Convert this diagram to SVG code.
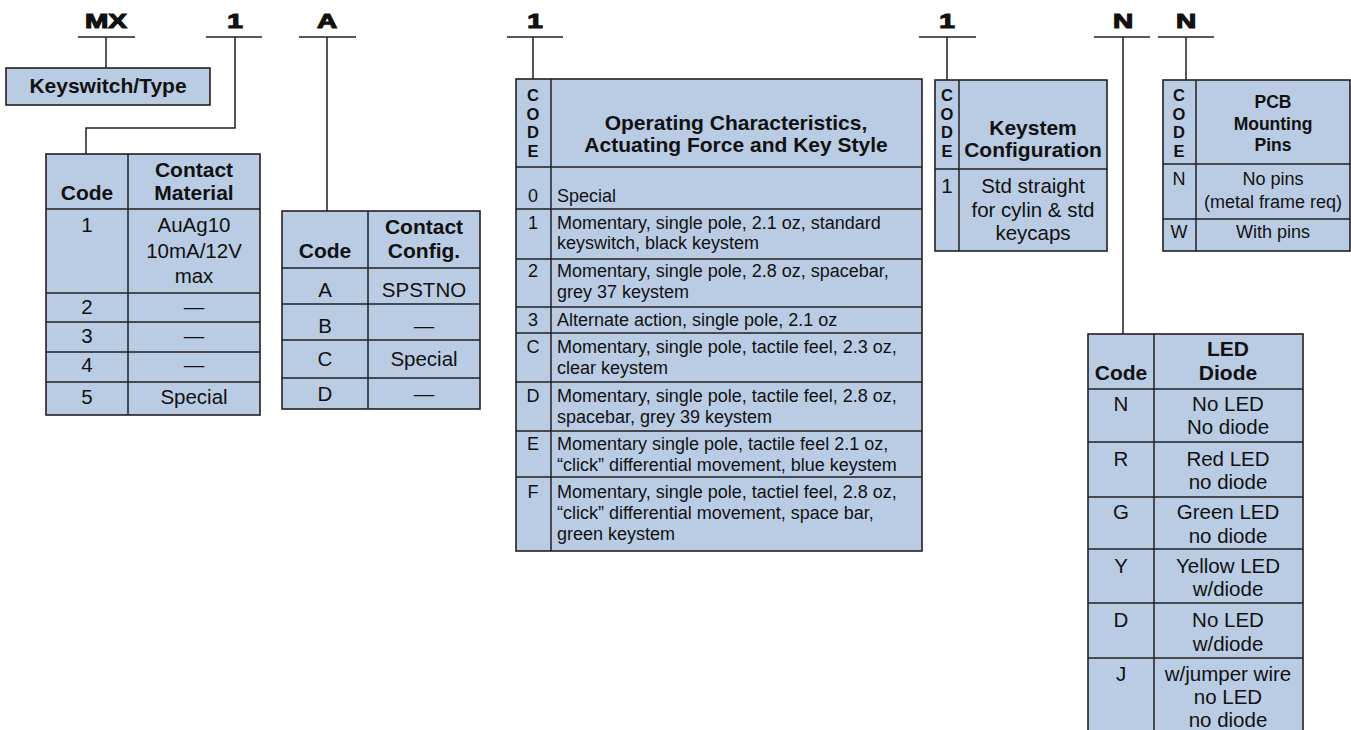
<svg xmlns="http://www.w3.org/2000/svg" width="1351" height="730" viewBox="0 0 1351 730">
<style>
.bg{fill:#ffffff}
.cell{fill:#b9cce4;stroke:#231f20;stroke-width:1.6}
.ln{stroke:#231f20;stroke-width:1.5;fill:none}
.con{stroke:#231f20;stroke-width:1.5;fill:none}
text{font-family:"Liberation Sans",Arial,Helvetica,sans-serif;fill:#111}
.lbl{font-size:20px;font-weight:bold;text-anchor:middle;stroke:#111;stroke-width:1.1}
.hd{font-size:21px;font-weight:bold;text-anchor:middle}
.hds{font-size:17.5px;font-weight:bold;text-anchor:middle}
.cd{font-size:16.5px;font-weight:bold;text-anchor:middle}
.b{font-size:20.5px;text-anchor:middle}
.bs{font-size:18px;text-anchor:middle}
.bl{font-size:18px}
</style>
<rect class="bg" x="0" y="0" width="1351" height="730"/>

<g id="connectors">
  <path class="con" d="M78,37 H135 M106,37 V68"/>
  <path class="con" d="M206,37 H262 M235,37 V128 H86 V154"/>
  <path class="con" d="M299,37 H356 M327,37 V211"/>
  <path class="con" d="M507,37 H563 M533,37 V79"/>
  <path class="con" d="M919,37 H976 M947,37 V80"/>
  <path class="con" d="M1094,37 H1150 M1123,37 V334"/>
  <path class="con" d="M1158,37 H1214 M1186,37 V80"/>
</g>

<g id="labels">
  <text class="lbl" transform="translate(106,28) scale(1.4,1)">MX</text>
  <text class="lbl" transform="translate(235,28) scale(1.4,1)">1</text>
  <text class="lbl" transform="translate(327,28) scale(1.4,1)">A</text>
  <text class="lbl" transform="translate(535,28) scale(1.4,1)">1</text>
  <text class="lbl" transform="translate(947,28) scale(1.4,1)">1</text>
  <text class="lbl" transform="translate(1123,28) scale(1.4,1)">N</text>
  <text class="lbl" transform="translate(1186,28) scale(1.4,1)">N</text>
</g>

<g id="keyswitch-type">
  <rect class="cell" x="6" y="68" width="204" height="37"/>
  <text class="hd" x="108" y="93">Keyswitch/Type</text>
</g>

<g id="contact-material">
  <rect class="cell" x="46" y="154" width="214" height="261"/>
  <path class="ln" d="M128,154 V415 M46,209 H260 M46,293 H260 M46,322 H260 M46,352 H260 M46,382 H260"/>
  <text class="hd" x="87" y="200">Code</text>
  <text class="hd" x="194" y="177">Contact</text>
  <text class="hd" x="194" y="200">Material</text>
  <text class="b" x="87" y="232">1</text>
  <text class="b" x="194" y="232">AuAg10</text>
  <text class="b" x="194" y="258">10mA/12V</text>
  <text class="b" x="194" y="283">max</text>
  <text class="b" x="87" y="314">2</text>
  <text class="b" x="194" y="314">—</text>
  <text class="b" x="87" y="343">3</text>
  <text class="b" x="194" y="343">—</text>
  <text class="b" x="87" y="372">4</text>
  <text class="b" x="194" y="372">—</text>
  <text class="b" x="87" y="404">5</text>
  <text class="b" x="194" y="404">Special</text>
</g>

<g id="contact-config">
  <rect class="cell" x="282" y="211" width="198" height="198"/>
  <path class="ln" d="M368,211 V409 M282,268 H480 M282,304 H480 M282,340 H480 M282,378 H480"/>
  <text class="hd" x="325" y="258">Code</text>
  <text class="hd" x="424" y="234">Contact</text>
  <text class="hd" x="424" y="258">Config.</text>
  <text class="b" x="325" y="297">A</text>
  <text class="b" x="424" y="297">SPSTNO</text>
  <text class="b" x="325" y="333">B</text>
  <text class="b" x="424" y="333">—</text>
  <text class="b" x="325" y="366">C</text>
  <text class="b" x="424" y="366">Special</text>
  <text class="b" x="325" y="401">D</text>
  <text class="b" x="424" y="401">—</text>
</g>

<g id="operating-characteristics">
  <rect class="cell" x="516" y="79" width="406" height="472"/>
  <path class="ln" d="M551,79 V551 M516,167 H922 M516,209 H922 M516,259 H922 M516,307 H922 M516,333 H922 M516,382 H922 M516,431 H922 M516,477 H922"/>
  <text class="cd" x="533" y="101">C</text>
  <text class="cd" x="533" y="119.5">O</text>
  <text class="cd" x="533" y="138">D</text>
  <text class="cd" x="533" y="156.5">E</text>
  <text class="hd" x="736" y="130">Operating Characteristics,</text>
  <text class="hd" x="736" y="152">Actuating Force and Key Style</text>
  <text class="bs" x="533" y="202">0</text>
  <text class="bl" x="557" y="202">Special</text>
  <text class="bs" x="533" y="229">1</text>
  <text class="bl" x="557" y="229">Momentary, single pole, 2.1 oz, standard</text>
  <text class="bl" x="557" y="249">keyswitch, black keystem</text>
  <text class="bs" x="533" y="277">2</text>
  <text class="bl" x="557" y="277">Momentary, single pole, 2.8 oz, spacebar,</text>
  <text class="bl" x="557" y="298">grey 37 keystem</text>
  <text class="bs" x="533" y="326">3</text>
  <text class="bl" x="557" y="326">Alternate action, single pole, 2.1 oz</text>
  <text class="bs" x="533" y="353">C</text>
  <text class="bl" x="557" y="353">Momentary, single pole, tactile feel, 2.3 oz,</text>
  <text class="bl" x="557" y="374">clear keystem</text>
  <text class="bs" x="533" y="402">D</text>
  <text class="bl" x="557" y="402">Momentary, single pole, tactile feel, 2.8 oz,</text>
  <text class="bl" x="557" y="423">spacebar, grey 39 keystem</text>
  <text class="bs" x="533" y="450">E</text>
  <text class="bl" x="557" y="450">Momentary single pole, tactile feel 2.1 oz,</text>
  <text class="bl" x="557" y="471">“click” differential movement, blue keystem</text>
  <text class="bs" x="533" y="498">F</text>
  <text class="bl" x="557" y="498">Momentary, single pole, tactiel feel, 2.8 oz,</text>
  <text class="bl" x="557" y="519">“click” differential movement, space bar,</text>
  <text class="bl" x="557" y="540">green keystem</text>
</g>

<g id="keystem-configuration">
  <rect class="cell" x="935" y="80" width="172" height="171"/>
  <path class="ln" d="M959,80 V251 M935,169 H1107"/>
  <text class="cd" x="947" y="101">C</text>
  <text class="cd" x="947" y="119.5">O</text>
  <text class="cd" x="947" y="138">D</text>
  <text class="cd" x="947" y="156.5">E</text>
  <text class="hd" x="1033" y="135">Keystem</text>
  <text class="hd" x="1033" y="157">Configuration</text>
  <text class="b" x="947" y="193">1</text>
  <text class="b" x="1033" y="193">Std straight</text>
  <text class="b" x="1033" y="217">for cylin &amp; std</text>
  <text class="b" x="1033" y="240">keycaps</text>
</g>

<g id="pcb-mounting-pins">
  <rect class="cell" x="1163" y="80" width="187" height="171"/>
  <path class="ln" d="M1196,80 V251 M1163,164 H1350 M1163,219 H1350"/>
  <text class="cd" x="1179" y="101">C</text>
  <text class="cd" x="1179" y="119.5">O</text>
  <text class="cd" x="1179" y="138">D</text>
  <text class="cd" x="1179" y="156.5">E</text>
  <text class="hds" x="1273" y="108">PCB</text>
  <text class="hds" x="1273" y="130">Mounting</text>
  <text class="hds" x="1273" y="151">Pins</text>
  <text class="bs" x="1179" y="185">N</text>
  <text class="bs" x="1273" y="185">No pins</text>
  <text class="bs" x="1273" y="208">(metal frame req)</text>
  <text class="bs" x="1179" y="238">W</text>
  <text class="bs" x="1273" y="238">With pins</text>
</g>

<g id="led-diode">
  <rect class="cell" x="1088" y="334" width="215" height="410"/>
  <path class="ln" d="M1154,334 V744 M1088,389 H1303 M1088,442 H1303 M1088,497 H1303 M1088,549 H1303 M1088,603 H1303 M1088,658 H1303"/>
  <text class="hd" x="1121" y="380">Code</text>
  <text class="hd" x="1228" y="356">LED</text>
  <text class="hd" x="1228" y="380">Diode</text>
  <text class="b" x="1121" y="411">N</text>
  <text class="b" x="1228" y="411">No LED</text>
  <text class="b" x="1228" y="434">No diode</text>
  <text class="b" x="1121" y="466">R</text>
  <text class="b" x="1228" y="466">Red LED</text>
  <text class="b" x="1228" y="489">no diode</text>
  <text class="b" x="1121" y="519">G</text>
  <text class="b" x="1228" y="519">Green LED</text>
  <text class="b" x="1228" y="543">no diode</text>
  <text class="b" x="1121" y="573">Y</text>
  <text class="b" x="1228" y="573">Yellow LED</text>
  <text class="b" x="1228" y="596">w/diode</text>
  <text class="b" x="1121" y="627">D</text>
  <text class="b" x="1228" y="627">No LED</text>
  <text class="b" x="1228" y="651">w/diode</text>
  <text class="b" x="1121" y="681">J</text>
  <text class="b" x="1228" y="681">w/jumper wire</text>
  <text class="b" x="1228" y="704">no LED</text>
  <text class="b" x="1228" y="727">no diode</text>
</g>
</svg>
